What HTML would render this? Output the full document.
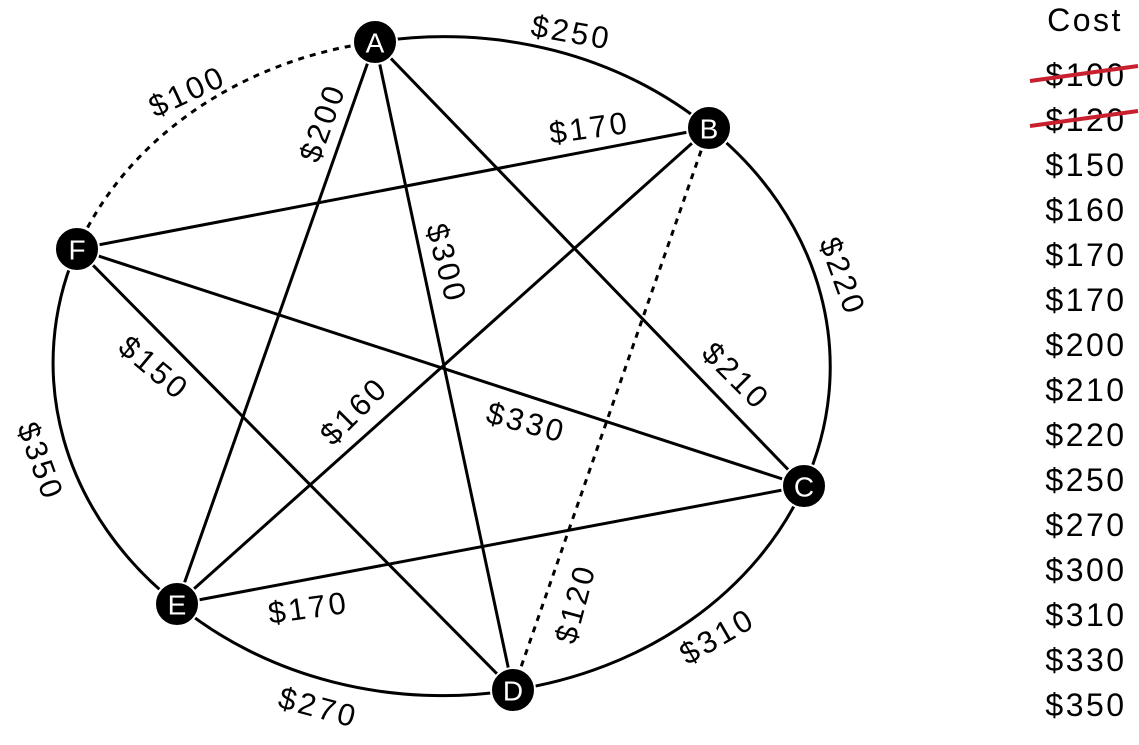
<!DOCTYPE html>
<html><head><meta charset="utf-8"><style>
body{margin:0;background:#fff}
svg{display:block}
text{font-family:"Liberation Sans","DejaVu Sans",sans-serif;fill:#000}
.lbl{letter-spacing:3px}
.cost{letter-spacing:2.5px}
</style></head><body>
<svg id="g" width="1139" height="745" viewBox="0 0 1139 745"></svg>
<script>
const nodeNames=["A","B","C","D","E","F"];
const nodeX=[375,709,804,513,177,77];
const nodeY=[42,128,486,690,604,249];
const arcEdges=[["A","B",250],["B","C",220],["C","D",310],["D","E",270],["E","F",350],["F","A",100]];
const chordEdges=[["A","E",200],["A","D",300],["A","C",210],["F","B",170],["F","C",330],["F","D",150],["B","E",160],["B","D",120],["E","C",170]];
const dashedEdges=["F-A","B-D"];
const labelPos={"A-B":[570,32,10],"B-C":[842,275,70],"C-D":[716,637,-30],"D-E":[317,707,15],"E-F":[40,460,70],"F-A":[186,92,-25],
"A-E":[322,124,-70],"A-D":[446,262,75],"A-C":[735,375,45],"F-B":[588,128,-8],"F-C":[525,422,15],"F-D":[153,367,40],"B-E":[353,412,-45],"B-D":[575,605,-75],"E-C":[307,608,-8]};
const costs=[100,120,150,160,170,170,200,210,220,250,270,300,310,330,350];
const crossed=[true,true];
const NS="http://www.w3.org/2000/svg";
const svg=document.getElementById("g");
function mk(t,a){const e=document.createElementNS(NS,t);for(const k in a)e.setAttribute(k,a[k]);svg.appendChild(e);return e;}
function P(n){const i=nodeNames.indexOf(n);return [nodeX[i],nodeY[i]];}
function label(key,w){const p=labelPos[key];const t=mk("text",{class:"lbl",x:p[0]+1.5,y:p[1],"font-size":31,"text-anchor":"middle","dominant-baseline":"central",transform:`rotate(${p[2]} ${p[0]} ${p[1]})`});t.textContent="$"+w;

}
arcEdges.forEach(e=>{const a=P(e[0]),b=P(e[1]);const key=e[0]+"-"+e[1];
const p=mk("path",{d:`M${a[0]},${a[1]} A382,327 0 0 1 ${b[0]},${b[1]}`,fill:"none",stroke:"#000","stroke-width":3,"stroke-dasharray":dashedEdges.includes(key)?"6,6":"none"});


label(key,e[2]);});
chordEdges.forEach(e=>{const a=P(e[0]),b=P(e[1]);const key=e[0]+"-"+e[1];
const l=mk("line",{x1:a[0],y1:a[1],x2:b[0],y2:b[1],stroke:"#000","stroke-width":3,"stroke-dasharray":dashedEdges.includes(key)?"6,6":"none"});


label(key,e[2]);});
nodeNames.forEach((n,i)=>{const c=mk("circle",{cx:nodeX[i],cy:nodeY[i],r:22,fill:"#000",stroke:"#fff","stroke-width":2});


const t=mk("text",{x:nodeX[i],y:nodeY[i]+1,"font-size":28,"text-anchor":"middle","dominant-baseline":"central",style:"fill:#fff"});t.textContent=n;

});
const h=mk("text",{class:"cost",x:1085,y:20,"font-size":32,"text-anchor":"middle","dominant-baseline":"central"});h.textContent="Cost";


costs.forEach((c,i)=>{const y=75+i*45;const t=mk("text",{class:"cost",x:1086,y:y,"font-size":32,"text-anchor":"middle","dominant-baseline":"central"});t.textContent="$"+c;


if(crossed[i]){const l=mk("line",{x1:1030,y1:y+6,x2:1138,y2:y-9,stroke:"#c8202f","stroke-width":4});

}});
</script>
</body></html>
